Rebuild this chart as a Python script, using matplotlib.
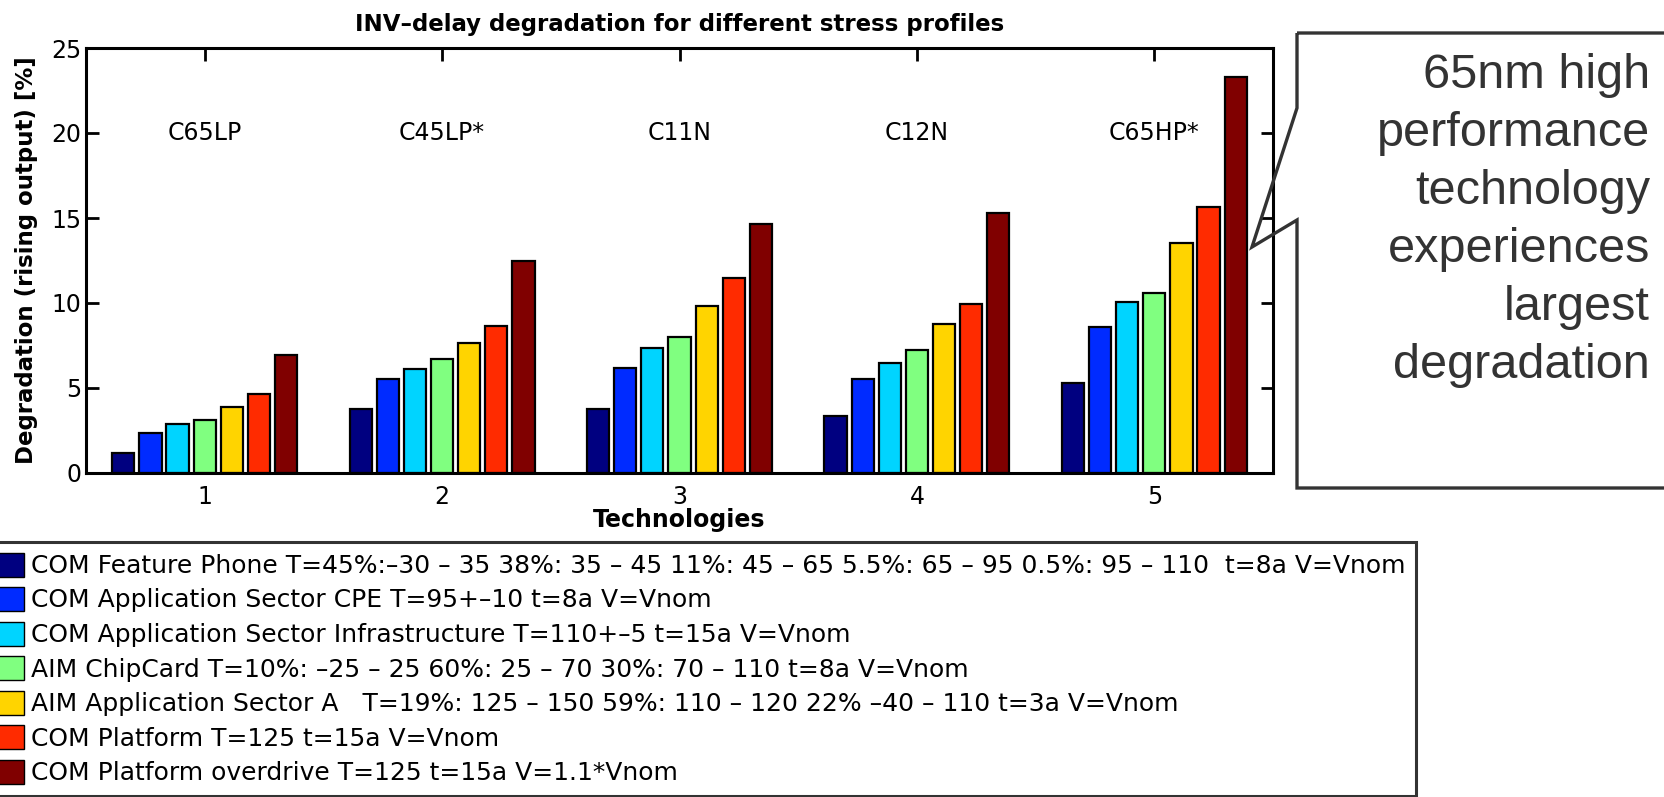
import numpy as np
import matplotlib
matplotlib.use("Agg")
import matplotlib.pyplot as plt
from matplotlib.patches import Polygon

plt.rcParams['font.family'] = ['DejaVu Sans']

technologies = [1, 2, 3, 4, 5]
tech_names = ["C65LP", "C45LP*", "C11N", "C12N", "C65HP*"]

profiles = [
    "COM Feature Phone T=45%:–30 – 35 38%: 35 – 45 11%: 45 – 65 5.5%: 65 – 95 0.5%: 95 – 110  t=8a V=Vnom",
    "COM Application Sector CPE T=95+–10 t=8a V=Vnom",
    "COM Application Sector Infrastructure T=110+–5 t=15a V=Vnom",
    "AIM ChipCard T=10%: –25 – 25 60%: 25 – 70 30%: 70 – 110 t=8a V=Vnom",
    "AIM Application Sector A   T=19%: 125 – 150 59%: 110 – 120 22% –40 – 110 t=3a V=Vnom",
    "COM Platform T=125 t=15a V=Vnom",
    "COM Platform overdrive T=125 t=15a V=1.1*Vnom",
]

# degradation [%] per stress profile, one value per technology
feature_phone   = [1.20, 3.78, 3.76, 3.35, 5.31]
cpe             = [2.37, 5.51, 6.16, 5.51, 8.57]
infrastructure  = [2.88, 6.14, 7.33, 6.49, 10.04]
chipcard        = [3.12, 6.69, 8.00, 7.24, 10.61]
sector_a        = [3.86, 7.67, 9.84, 8.75, 13.51]
platform        = [4.63, 8.65, 11.47, 9.94, 15.67]
platform_od     = [6.94, 12.47, 14.65, 15.27, 23.27]
series = [feature_phone, cpe, infrastructure, chipcard, sector_a, platform, platform_od]

callout_lines = ["65nm high", "performance", "technology", "experiences", "largest", "degradation"]

# MATLAB-style jet, 7 steps
colors = [(0, 0, 0.5), (0, 0.17, 1), (0, 0.83, 1), (0.5, 1, 0.5),
          (1, 0.83, 0), (1, 0.17, 0), (0.5, 0, 0)]

W, H = 1664, 797
fig = plt.figure(figsize=(W / 100, H / 100), dpi=100)


def fx(px): return px / W
def fy(py): return 1 - py / H


ax = fig.add_axes([fx(86), fy(473), fx(1273) - fx(86), fy(48) - fy(473)])
n = len(series)
pitch = 0.8 / n
x = np.array(technologies, dtype=float)
handles = []
for i, (vals, c) in enumerate(zip(series, colors)):
    h = ax.bar(x + (i - (n - 1) / 2) * pitch, vals, width=pitch * 0.82,
               color=c, edgecolor="black", linewidth=1.6, zorder=2)
    handles.append(h)

for xi, name in zip(technologies, tech_names):
    ax.text(xi, 20, name, ha="center", va="center", fontsize=17)

ax.set_xlim(0.5, 5.5)
ax.set_ylim(0, 25)
ax.set_xticks(technologies)
ax.set_yticks(range(0, 26, 5))
ax.tick_params(direction="in", length=9, width=2, top=True, right=True, labelsize=17)
ax.tick_params(axis="x", pad=9)
for s in ax.spines.values():
    s.set_linewidth(2.2)

ax.set_title("INV–delay degradation for different stress profiles", fontsize=16.5,
             fontweight="bold", pad=12)
ax.set_xlabel("Technologies", fontsize=17, fontweight="bold")
ax.xaxis.set_label_coords(0.5, (473 - 508) / 425)
ax.set_ylabel("Degradation (rising output) [%]", fontsize=16.5, fontweight="bold")
ax.yaxis.set_label_coords((38 - 86) / 1187, 0.5)

leg = fig.legend(handles, profiles, loc="upper left",
                 bbox_to_anchor=(fx(-12), fy(542)), bbox_transform=fig.transFigure,
                 fontsize=18, frameon=True, fancybox=False, borderpad=0.42,
                 handlelength=1.0, handleheight=1.1, handletextpad=0.3,
                 labelspacing=0.36, borderaxespad=0)
fr = leg.get_frame()
fr.set_edgecolor("black")
fr.set_linewidth(2.2)
for p in leg.get_patches():
    p.set_linewidth(1.0)

# speech-bubble callout
pts = [(1297, 33), (1670, 33), (1670, 488), (1297, 488), (1297, 220),
       (1252, 247), (1297, 108)]
bubble = Polygon([(fx(a), fy(b)) for a, b in pts], closed=True, fill=False,
                 edgecolor="#333333", linewidth=2.4, transform=fig.transFigure)
fig.patches.append(bubble)
for k, line in enumerate(callout_lines):
    fig.text(fx(1650), fy(75 + k * 58), line, ha="right", va="center",
             fontsize=35, color="#333333", family="Liberation Sans")

fig.savefig("out.png", dpi=100)
